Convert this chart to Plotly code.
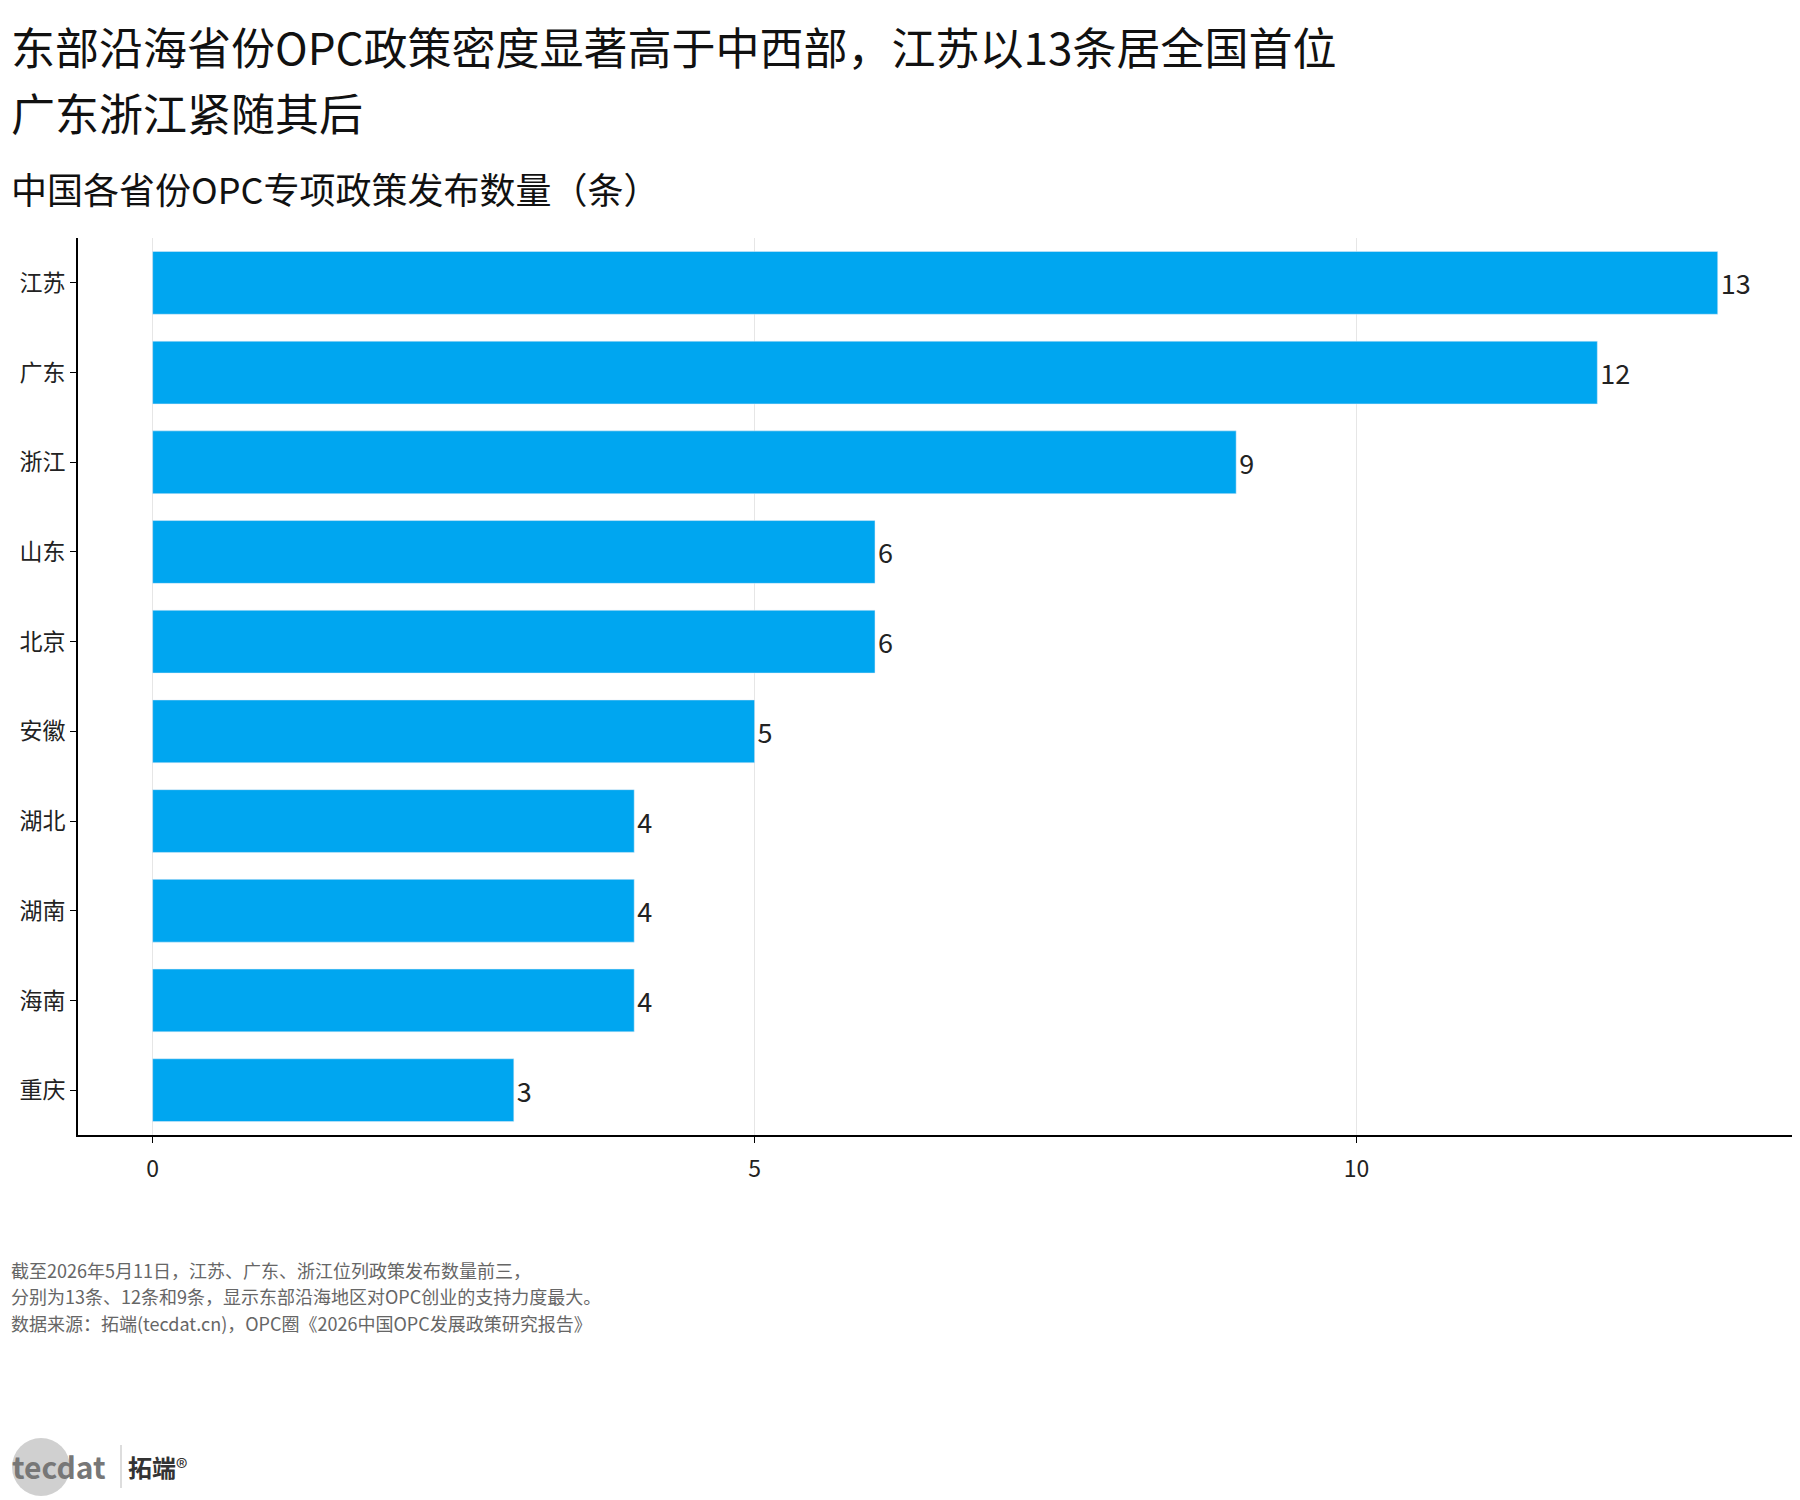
import plotly.graph_objects as go

provinces = ["江苏", "广东", "浙江", "山东", "北京", "安徽", "湖北", "湖南", "海南", "重庆"]
counts = [13, 12, 9, 6, 6, 5, 4, 4, 4, 3]
x_ticks = [0, 5, 10]

FONT = "Noto Sans CJK SC"
L, T, B = 70, 230, 373
PW, PH = 1800 - L - 6, 1500 - T - B
fig = go.Figure(go.Bar(
    y=provinces, x=counts, orientation="h", marker_color="#00A6F0",
    width=0.7, text=[str(c) for c in counts], textposition="outside",
    textfont=dict(size=27, color="#222", family=FONT), cliponaxis=False,
))
fig.update_layout(
    width=1800, height=1500, plot_bgcolor="white", paper_bgcolor="white",
    margin=dict(l=L, r=6, t=T, b=B), showlegend=False,
    font=dict(family=FONT, color="#222"),
    xaxis=dict(range=[-0.62, 13.7], tickvals=x_ticks, showgrid=True, gridcolor="#E6E6E6",
               zeroline=False, showline=True, linecolor="black", linewidth=2,
               ticks="outside", ticklen=6, tickcolor="black", tickfont=dict(size=23), ticklabelstandoff=6),
    yaxis=dict(autorange="reversed", showline=True, linecolor="black", linewidth=2,
               ticks="outside", ticklen=6, tickcolor="black", tickfont=dict(size=23), showgrid=False),
    bargap=0.3,
)
def px(x): return (x - L) / PW
def py(y): return 1 - (y - T) / PH
ann = [
    dict(text="东部沿海省份OPC政策密度显著高于中西部，江苏以13条居全国首位", x=1, y=38, size=44, color="#111"),
    dict(text="广东浙江紧随其后", x=1, y=104, size=44, color="#111"),
    dict(text="中国各省份OPC专项政策发布数量（条）", x=1, y=180, size=36, color="#111"),
    dict(text="截至2026年5月11日，江苏、广东、浙江位列政策发布数量前三，", x=1, y=1262, size=18, color="#666"),
    dict(text="分别为13条、12条和9条，显示东部沿海地区对OPC创业的支持力度最大。", x=1, y=1288, size=18, color="#666"),
    dict(text="数据来源：拓端(tecdat.cn)，OPC圈《2026中国OPC发展政策研究报告》", x=1, y=1315, size=18, color="#666"),
    dict(text="<b>tecdat</b>", x=2, y=1458, size=30, color="#777"),
    dict(text="<b>拓端</b>®", x=118, y=1458, size=24, color="#333"),
]
for a in ann:
    fig.add_annotation(text=a["text"], xref="paper", yref="paper", x=px(a["x"]), y=py(a["y"]),
                       xanchor="left", yanchor="middle", showarrow=False,
                       font=dict(size=a["size"], color=a["color"], family=FONT))
fig.add_shape(type="circle", xref="paper", yref="paper",
              x0=px(4), x1=px(62), y0=py(1488), y1=py(1430),
              fillcolor="rgba(120,120,120,0.35)", line_width=0, layer="below")
fig.add_shape(type="line", xref="paper", yref="paper",
              x0=px(113), x1=px(113), y0=py(1480), y1=py(1437),
              line=dict(color="#bbb", width=1))
fig.write_html("out.html")
